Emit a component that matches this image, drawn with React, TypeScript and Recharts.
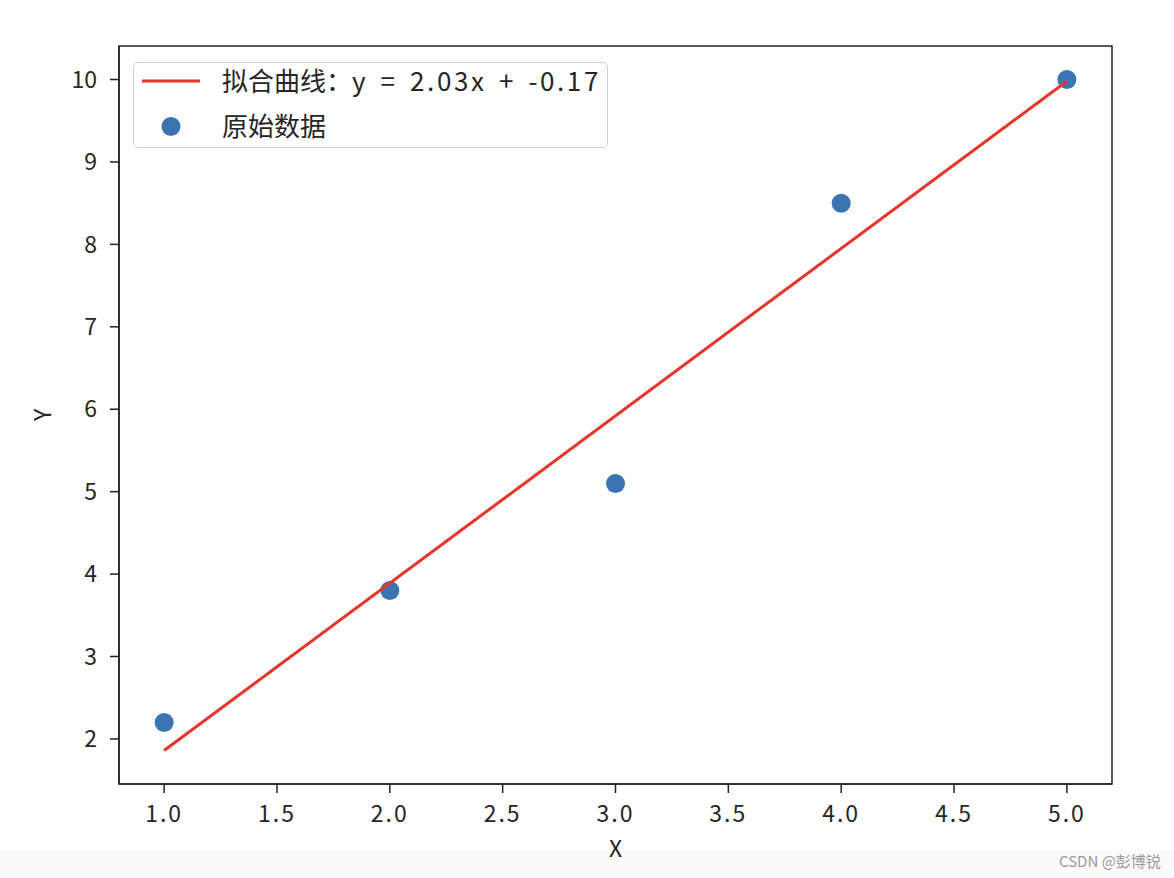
import React from 'react';
import { ScatterChart, Scatter, XAxis, YAxis, ReferenceArea, Legend } from 'recharts';

// ---- data ----
const xValues = [1, 2, 3, 4, 5];
const yValues = [2.2, 3.8, 5.1, 8.5, 10.0];
const fitXValues = [1, 5];
const fitYValues = [1.86, 9.98]; // y = 2.03x + -0.17
const xTicks = [1.0, 1.5, 2.0, 2.5, 3.0, 3.5, 4.0, 4.5, 5.0];
const yTicks = [2, 3, 4, 5, 6, 7, 8, 9, 10];
const xDomain = [0.8, 5.2];
const yDomain = [1.453, 10.407];
const fitLabelPrefix = '拟合曲线：';
const fitLabelEquation = 'y = 2.03x + -0.17';
const dataLabel = '原始数据';
const xLabel = 'X';
const yLabel = 'Y';
const watermark = 'CSDN @彭博锐';

// ---- styles ----
const FONT = "'Noto Sans CJK SC', 'Noto Sans', sans-serif";
const RED = '#e8352b';
const BLUE = '#3a74b2';
const INK = '#262626';
const AXIS = '#222';

const points = xValues.map((x, i) => ({ x, y: yValues[i] }));
const fitPoints = fitXValues.map((x, i) => ({ x, y: fitYValues[i] }));

const renderLegend = () => (
  <div
    style={{
      width: 475,
      height: 86,
      boxSizing: 'border-box',
      border: '1.5px solid #d2d2d2',
      borderRadius: 5,
      background: 'rgba(255,255,255,0.85)',
      position: 'relative',
      fontFamily: FONT,
      color: INK,
    }}
  >
    <svg width={90} height={84} style={{ position: 'absolute', left: 0, top: 0 }}>
      <line x1={8} x2={66} y1={18} y2={18} stroke={RED} strokeWidth={3} />
      <circle cx={37} cy={63.5} r={9.5} fill={BLUE} />
    </svg>
    <div
      style={{
        position: 'absolute',
        left: 88,
        top: -2,
        height: 38,
        lineHeight: '38px',
        fontSize: 26,
        whiteSpace: 'pre',
      }}
    >
      <span>{fitLabelPrefix}</span>
      <span style={{ letterSpacing: 2.6, wordSpacing: 4 }}>{fitLabelEquation}</span>
    </div>
    <div
      style={{
        position: 'absolute',
        left: 88,
        top: 43,
        height: 38,
        lineHeight: '38px',
        fontSize: 26,
        whiteSpace: 'pre',
      }}
    >
      {dataLabel}
    </div>
  </div>
);

export default function App() {
  return (
    <div style={{ position: 'absolute', left: 0, top: 0, width: 1174, height: 878, background: '#fff' }}>
      <div style={{ position: 'absolute', left: 0, top: 850, width: 1174, height: 28, background: '#fbfbfb' }} />
      <ScatterChart
        width={1174}
        height={878}
        margin={{ top: 46, right: 62, bottom: 0, left: 0 }}
      >
        <XAxis
          dataKey="x"
          type="number"
          domain={xDomain}
          ticks={xTicks}
          allowDataOverflow
          height={94}
          tickSize={9}
          tickMargin={13}
          tickFormatter={(v) => Number(v).toFixed(1)}
          axisLine={{ stroke: AXIS, strokeWidth: 1.5 }}
          tickLine={{ stroke: AXIS, strokeWidth: 1.5 }}
          tick={{ fill: INK, fontSize: 23, fontFamily: FONT, letterSpacing: 2 }}
          label={{ value: xLabel, position: 'insideBottom', offset: 21, fill: INK, fontSize: 23, fontFamily: FONT }}
        />
        <YAxis
          dataKey="y"
          type="number"
          domain={yDomain}
          ticks={yTicks}
          allowDataOverflow
          width={119}
          tickSize={9}
          tickMargin={13}
          axisLine={{ stroke: AXIS, strokeWidth: 1.5 }}
          tickLine={{ stroke: AXIS, strokeWidth: 1.5 }}
          tick={{ fill: INK, fontSize: 23, fontFamily: FONT }}
          label={{
            value: yLabel,
            angle: -90,
            position: 'insideLeft',
            offset: 43,
            fill: INK,
            fontSize: 23,
            fontFamily: FONT,
            style: { textAnchor: 'middle' },
          }}
        />
        <ReferenceArea
          x1={xDomain[0]}
          x2={xDomain[1]}
          y1={yDomain[0]}
          y2={yDomain[1]}
          fill="none"
          fillOpacity={0}
          stroke={AXIS}
          strokeWidth={1.5}
          ifOverflow="visible"
        />
        <Scatter
          name={dataLabel}
          data={points}
          isAnimationActive={false}
          shape={(p: any) => <circle cx={p.cx} cy={p.cy} r={9.5} fill={BLUE} />}
        />
        <Scatter
          name={fitLabelPrefix + fitLabelEquation}
          data={fitPoints}
          isAnimationActive={false}
          line={{ stroke: RED, strokeWidth: 3 }}
          fill={RED}
          shape={() => <g />}
        />
        <Legend
          layout="vertical"
          align="center"
          verticalAlign="middle"
          content={renderLegend}
          wrapperStyle={{ left: 133, top: 62, width: 475, height: 86, right: 'auto', bottom: 'auto' }}
        />
      </ScatterChart>
      <div
        style={{
          position: 'absolute',
          left: 1059,
          top: 852,
          fontSize: 15,
          lineHeight: '17px',
          fontFamily: FONT,
          color: '#9a9a9a',
          whiteSpace: 'nowrap',
        }}
      >
        {watermark}
      </div>
    </div>
  );
}
